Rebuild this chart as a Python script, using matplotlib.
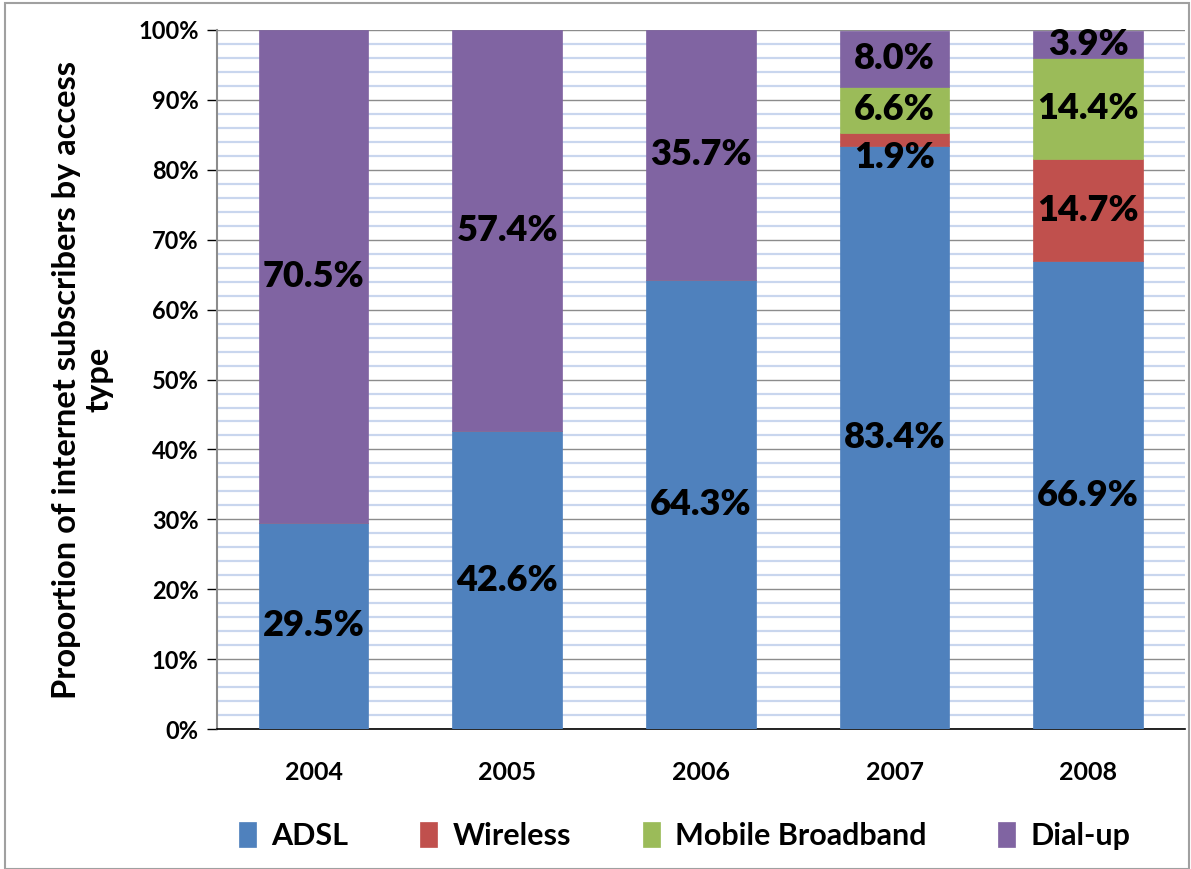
import matplotlib
matplotlib.use('Agg')
import matplotlib.pyplot as plt
from matplotlib.ticker import MultipleLocator, FuncFormatter
from matplotlib.patches import Rectangle
import numpy as np

# Excel-ish office colors
ADSL_BLUE = "#4F81BD"
WIRELESS_RED = "#C0504D"
MOBILE_GREEN = "#9BBB59"
DIALUP_PURPLE = "#8064A2"

years = ["2004", "2005", "2006", "2007", "2008"]
adsl = [29.5, 42.6, 64.3, 83.4, 66.9]
wireless = [0.0, 0.0, 0.0, 1.9, 14.7]
mobile = [0.0, 0.0, 0.0, 6.6, 14.4]
dialup = [70.5, 57.4, 35.7, 8.0, 3.9]

series = [("ADSL", adsl, ADSL_BLUE),
          ("Wireless", wireless, WIRELESS_RED),
          ("Mobile Broadband", mobile, MOBILE_GREEN),
          ("Dial-up", dialup, DIALUP_PURPLE)]

plt.rcParams['font.family'] = ['Lato', 'DejaVu Sans']

width = 11.91
height = 8.69
fig = plt.figure(figsize=(width, height), dpi=100)
ax = fig.add_axes([0.182, 0.161, 0.813, 0.8045])

x = np.arange(len(years))
bottom = np.zeros(len(years))
handles = []
for name, vals, color in series:
    vals = np.array(vals)
    h = ax.bar(x, vals, width=0.567, bottom=bottom, color=color,
               edgecolor=color, linewidth=0.5, label=name, zorder=3)
    handles.append(h)
    for i, v in enumerate(vals):
        if v <= 0:
            continue
        y = bottom[i] + v / 2
        if v < 3:  # small segment: Excel nudges the label down
            y -= 2.6
        ax.text(x[i], y, f"{v:.1f}%", ha="center", va="center",
                fontsize=26, fontweight="heavy", color="black", zorder=4)
    bottom = bottom + vals

ax.set_xlim(-0.5, len(years) - 0.5)
ax.set_ylim(0, 100)
ax.yaxis.set_major_locator(MultipleLocator(10))
ax.yaxis.set_minor_locator(MultipleLocator(2))
ax.yaxis.set_major_formatter(FuncFormatter(lambda v, p: f"{v:.0f}%"))
ax.grid(axis="y", which="minor", color="#C9D6EE", lw=1.6, zorder=0)
ax.grid(axis="y", which="major", color="#8C8C8C", lw=1.0, zorder=1)
ax.tick_params(axis="y", which="minor", length=0)
ax.tick_params(axis="y", which="major", length=7, width=1, direction="out",
               labelsize=17, pad=6, color="black")
for lbl in ax.get_yticklabels():
    lbl.set_fontweight("bold")
ax.set_xticks(x)
ax.set_xticklabels(years, fontsize=18, fontweight="bold")
ax.tick_params(axis="x", length=0, pad=23)

ax.spines["top"].set_visible(False)
ax.spines["right"].set_visible(False)
ax.spines["left"].set_color("#8C8C8C")
ax.spines["left"].set_linewidth(1.5)
ax.spines["bottom"].set_color("black")
ax.spines["bottom"].set_linewidth(1.2)

ax.set_ylabel("Proportion of internet subscribers by access\ntype",
              fontsize=23.5, fontweight="bold", labelpad=18,
              linespacing=1.15)

fig.legend(handles=handles, loc="center", bbox_to_anchor=(0.575, 0.038),
           ncol=4, frameon=False, prop={'size': 22, 'weight': 'bold'},
           handlelength=0.55, handleheight=0.9, columnspacing=2.35,
           handletextpad=0.5)

# thin frame around the whole chart area
fig.patches.append(Rectangle((0.004, 0.0), 0.994, 0.996, transform=fig.transFigure,
                             fill=False, edgecolor="#A0A0A0", lw=1.5))

fig.savefig("out.png", dpi=100)
plt.close()
